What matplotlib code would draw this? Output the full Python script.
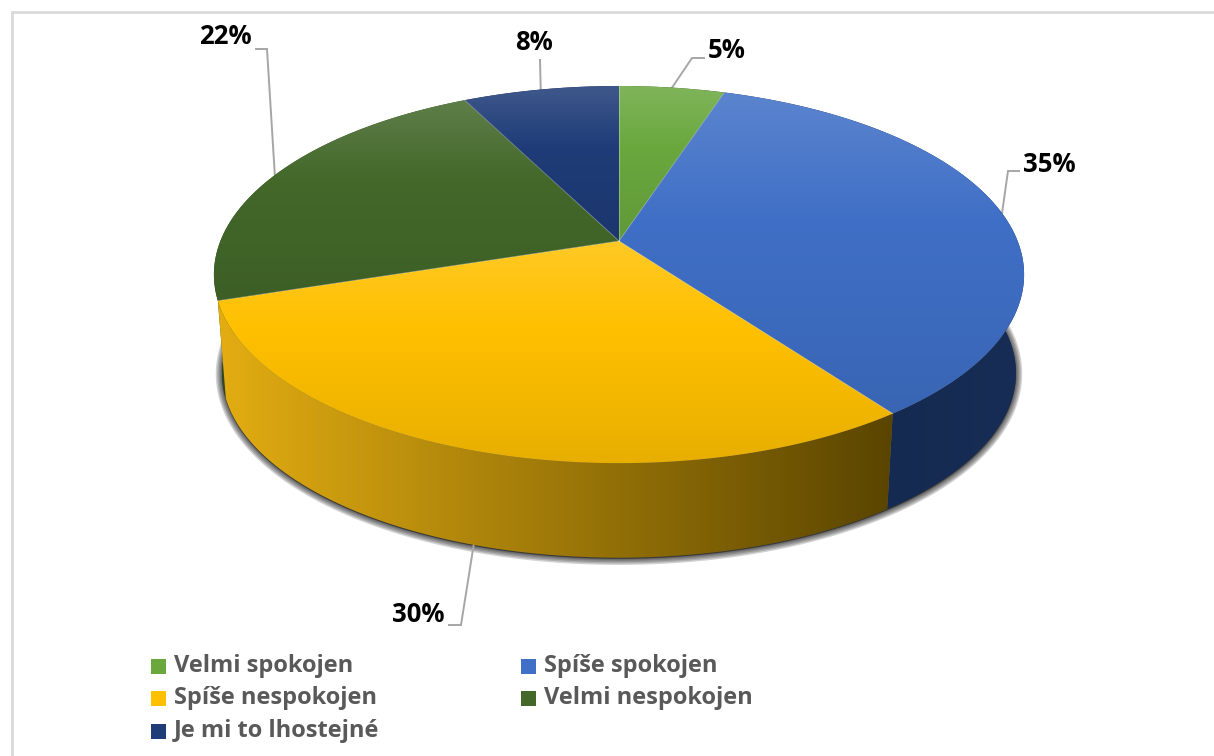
import numpy as np
import matplotlib
matplotlib.use("Agg")
import matplotlib.pyplot as plt
from matplotlib.colors import to_rgb
from matplotlib.patches import Polygon, Rectangle

# Data
categories = ["Velmi spokojen", "Spíše spokojen", "Spíše nespokojen", "Velmi nespokojen", "Je mi to lhostejné"]
shares = [5, 35, 30, 22.6, 7.4]
pct_labels = ["5%", "35%", "30%", "22%", "8%"]
top_colors = ["#6aa83e", "#3f6fc6", "#ffc000", "#43682a", "#1f3c78"]
side_colors = [("#3c6324", "#2f4e1c"), ("#14274d", "#172d55"), ("#e3ad12", "#5a4500"),
               ("#2c4a1a", "#2c4a1a"), ("#14274d", "#14274d")]

# Perspective of the pie, in image pixels
cx, cy = 619, 241
rx, ry, persp = 398.6, 182.6, 0.178
base_y, base_scale = 340, 0.98


def project(t, base=False):
    d = 1 + persp * np.sin(t)
    x = rx * np.cos(t) / d
    y = -ry * np.sin(t) / d
    if base:
        return cx + base_scale * x, base_y + base_scale * y
    return cx + x, cy + y


def mix(col, other, a):
    return np.array(to_rgb(col)) * (1 - a) + np.array(to_rgb(other)) * a


def paint(ax, verts, rows, zorder):
    # gradient image clipped to a polygon
    x0, x1 = verts[:, 0].min() - 1, verts[:, 0].max() + 1
    y0, y1 = verts[:, 1].min() - 1, verts[:, 1].max() + 1
    im = ax.imshow(rows, extent=[x0, x1, y1, y0], aspect="auto", zorder=zorder, interpolation="bilinear")
    poly = Polygon(verts, closed=True, transform=ax.transData, fc="none", ec="none")
    ax.add_patch(poly)
    im.set_clip_path(poly)


fig = plt.figure(figsize=(12.14, 7.56), dpi=100)
ax = fig.add_axes([0, 0, 1, 1])
ax.axis("off")

ax.add_patch(Rectangle((12, 12), 1400, 900, fc="white", ec="#d9d9d9", lw=2, zorder=0))

fracs = np.array(shares) / sum(shares)
edges = np.pi / 2 - 2 * np.pi * np.concatenate([[0], np.cumsum(fracs)])
mids = (edges[:-1] + edges[1:]) / 2

# soft shadow under the base
tt = np.linspace(0, 2 * np.pi, 400)
bx, by = project(tt, base=True)
for lw in [9, 7, 5, 3, 1.5]:
    ax.add_patch(Polygon(np.c_[bx, by + 1], closed=True, fc="#222222", ec="#222222", lw=lw, alpha=0.2, zorder=1))

# side walls, back ones first
order = np.argsort(-np.sin(mids))
for k, i in enumerate(order):
    t = np.linspace(edges[i], edges[i + 1], 200)
    tx, ty = project(t)
    ux, uy = project(t, base=True)
    verts = np.r_[np.c_[tx, ty], np.c_[ux, uy][::-1]]
    c0, c1 = side_colors[i]
    ramp = np.linspace(0, 1, 200)[None, :, None]
    rows = np.array(to_rgb(c0))[None, None, :] * (1 - ramp) + np.array(to_rgb(c1))[None, None, :] * ramp
    paint(ax, verts, rows, 2 + k * 0.01)

# top faces
for i in range(len(shares)):
    t = np.linspace(edges[i], edges[i + 1], 200)
    tx, ty = project(t)
    verts = np.r_[[[cx, cy]], np.c_[tx, ty]]
    rows = []
    for v in np.linspace(0, 1, 200):
        if v < 0.4:
            rows.append(mix(top_colors[i], "white", 0.15 * (1 - v / 0.4)))
        else:
            rows.append(mix(top_colors[i], "black", 0.09 * (v - 0.4) / 0.6))
    paint(ax, verts, np.array(rows)[:, None, :], 3)
    ax.plot(np.r_[cx, tx[0]], np.r_[cy, ty[0]], color="white", lw=0.6, alpha=0.35, zorder=3.5)

# data labels with leader lines
elbows = [[(692, 58), (704, 58)], [(1008, 171), (1019, 171)], [(461, 625), (449, 625)],
          [(267, 49), (256, 49)], [(540, 60)]]
label_pos = [(727, 51), (1049, 164), (418, 615), (225, 36), (534, 43)]
for i, lab in enumerate(pct_labels):
    on_side = np.sin(mids[i]) < 0 and np.cos(mids[i]) < 0
    ax0 = project(mids[i], base=on_side)
    pts = np.array([ax0] + elbows[i])
    ax.plot(pts[:, 0], pts[:, 1], color="#a6a6a6", lw=1.4, zorder=1.5, solid_joinstyle="miter")
    ax.text(label_pos[i][0], label_pos[i][1], lab, ha="center", va="center", fontsize=18.5,
            fontweight="bold", family="Open Sans", color="black", zorder=5)

# legend
legend_x = [151, 521, 151, 521, 151]
legend_y = [666, 666, 698, 698, 731]
for i, name in enumerate(categories):
    ax.add_patch(Rectangle((legend_x[i], legend_y[i] - 7.5), 15, 15, fc=top_colors[i], ec="none", zorder=4))
    ax.text(legend_x[i] + 23, legend_y[i], name, ha="left", va="center", fontsize=17,
            fontweight="bold", family="Open Sans", color="#595959", zorder=5)

ax.set_xlim(0, 1214)
ax.set_ylim(756, 0)
fig.savefig("out.png", dpi=100, facecolor="white")
